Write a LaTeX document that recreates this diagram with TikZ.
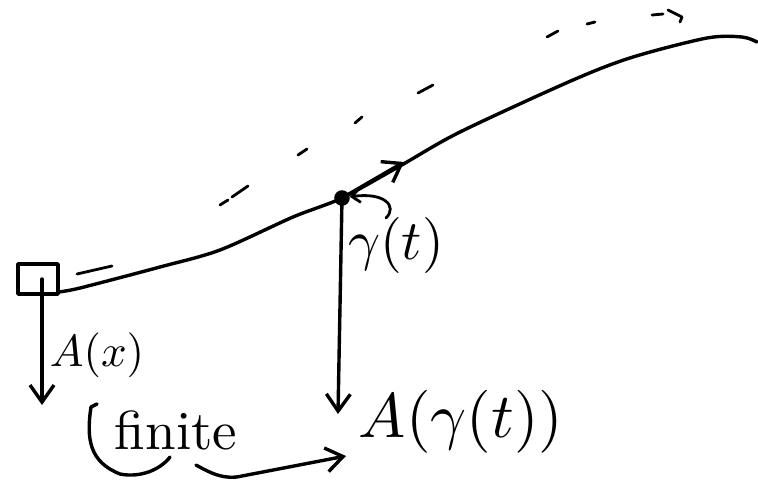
\documentclass[tikz,border=0pt]{standalone}
\usetikzlibrary{arrows.meta}
\begin{document}
\begin{tikzpicture}[x=1pt,y=-1pt,
  ink/.style={line width=3.4pt, line cap=round, line join=round},
  thin ink/.style={line width=2.8pt, line cap=round, line join=round},
  barb/.style={-{Straight Barb[length=17pt,width=24pt]}},
  small barb/.style={-{Straight Barb[length=8pt,width=14pt]}},
  lbl/.style={inner sep=0pt}]
\useasboundingbox (0,0) rectangle (758,480);
% base box and point
\node[draw, ink, minimum width=40pt, minimum height=30pt, inner sep=0pt] (box) at (38,279) {};
\node[circle, fill, inner sep=5.5pt] (p) at (342,198) {};
\coordinate (tan) at (404,162);
\coordinate (ax) at (42,405);
\coordinate (agt) at (338,414);
\coordinate (hook) at (386,218);
\coordinate (fstart) at (196,465);
\coordinate (ftip) at (346,456);
% curve
\draw[ink] plot[smooth, tension=0.5] coordinates {(58,292) (80,288) (160,267) (220,250) (293,217) (342,198) (400,166) (460,132) (573,80) (633,57) (707,38) (742,37) (757,42)};
% dashed curve above
\draw[thin ink] (77,274)--(112,266) (220,205)--(228,200) (232,197)--(248,186)
  (298,155)--(307,149) (355,123)--(362,117) (418,93)--(433,85)
  (547,37)--(558,31) (587,24)--(595,22) (652,15)--(663,14)
  (668,10)--(682,17)--(680,22);
% arrows
\draw[ink, barb] (p.center) -- (tan);
\draw[ink, barb] (p.center) -- (agt);
\draw[ink, barb] ([xshift=4pt]box.center) -- (ax);
\draw[thin ink, small barb] (hook) .. controls (398,206) and (384,192) .. (p);
% labels
\node[lbl, scale=4.5] (lax) at (97,355) {$A(x)$};
\node[lbl, scale=5.6] (lg) at (396,245) {$\gamma(t)$};
\node[lbl, scale=6.3] (lagt) at (461,422) {$A(\gamma(t))$};
\node[lbl, scale=5.5] (fin) at (176,430) {finite};
% bracket and arrow to A(gamma(t))
\draw[ink] (97,404) -- (91,407) .. controls (86,440) and (90,462) .. (120,474) .. controls (140,478) and (160,470) .. (170,457);
\draw[ink, barb] (fstart) .. controls (212,474) and (225,480) .. (242,476) -- (ftip);
\end{tikzpicture}
\end{document}
